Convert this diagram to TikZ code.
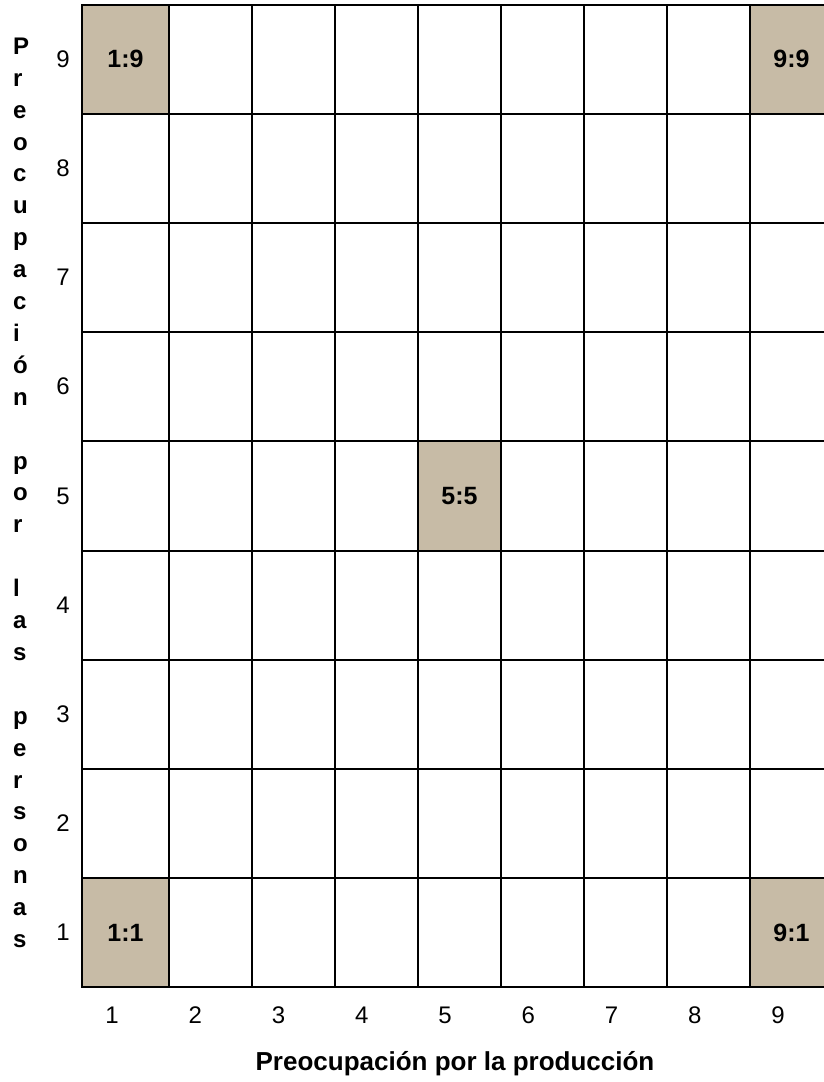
\documentclass[tikz,border=0pt]{standalone}
\usepackage{fontspec}
\setmainfont{Liberation Sans}
\usepackage{xcolor}
\usetikzlibrary{positioning}
\definecolor{celda}{RGB}{199,187,166}

\begin{document}
\begin{tikzpicture}[x=1pt,y=-1pt,
    rejilla/.style={line width=2pt,line cap=rect},
    marca/.style={font=\fontsize{25}{30}\selectfont\bfseries,inner sep=0pt},
    numero/.style={font=\fontsize{24}{28}\selectfont,inner sep=0pt}]
    \useasboundingbox (0,0) rectangle (824,1082);
    \clip (0,0) rectangle (824,1082);
    \fill[white] (0,0) rectangle (824,1082);

    % celdas destacadas
    \fill[celda] (82,4.5) rectangle (169,113.7);
    \fill[celda] (750,4.5) rectangle (833,113.7);
    \fill[celda] (418,441.3) rectangle (501,550.5);
    \fill[celda] (82,878.1) rectangle (169,987.3);
    \fill[celda] (750,878.1) rectangle (833,987.3);

    % rejilla 9 x 9
    \foreach \x in {82,169,252,335,418,501,584,667,750,833} {
        \draw[rejilla] (\x,4.5) -- (\x,987.3);
    }
    \foreach \y in {0,...,9} {
        \draw[rejilla] (82,4.5+109.2*\y) -- (833,4.5+109.2*\y);
    }

    % estilos extremos
    \node[marca] (e19) at (125.5,59.1) {1:9};
    \node[marca] (e99) at (791.5,59.1) {9:9};
    \node[marca] (e55) at (459.5,495.9) {5:5};
    \node[marca] (e11) at (125.5,932.7) {1:1};
    \node[marca] (e91) at (791.5,932.7) {9:1};

    % escalas
    \foreach \n in {1,...,9} {
        \node[numero] (fila\n) at (63,987.3-109.2*\n+54.6) {\n};
        \node[numero] (col\n) at (112+83.25*\n-83.25,1015) {\n};
    }

    % titulos de los ejes
    \node[marca,font=\fontsize{26}{30}\selectfont\bfseries] (ejex) at (455,1064) {Preocupación por la producción};
    \node[marca,align=left,anchor=west,font=\fontsize{24}{31.9}\selectfont\bfseries]
        (ejey) at (13,492.8)
        {P\\r\\e\\o\\c\\u\\p\\a\\c\\i\\ó\\n\\ \\p\\o\\r\\ \\l\\a\\s\\ \\p\\e\\r\\s\\o\\n\\a\\s};
\end{tikzpicture}
\end{document}
